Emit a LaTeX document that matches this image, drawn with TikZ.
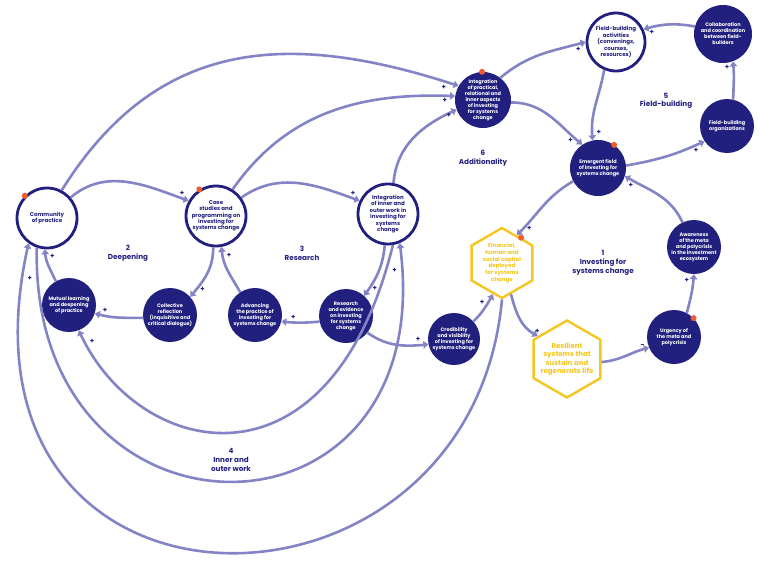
\documentclass[tikz,border=0pt]{standalone}
\usepackage{fontspec}
\setmainfont{Poppins}
\usetikzlibrary{arrows.meta,shapes.geometric}
\definecolor{navy}{HTML}{22207F}
\definecolor{lav}{HTML}{8284C5}
\definecolor{gold}{HTML}{F5C61E}
\definecolor{dotred}{HTML}{F15A2B}
\begin{document}
\begin{tikzpicture}[x=1pt,y=-1pt,
  fc/.style={circle, fill=navy, minimum size=#1, inner sep=0pt},
  wcirc/.style={circle, draw=navy, line width=2.8pt, fill=white, minimum size=#1, inner sep=0pt},
  hexa/.style={regular polygon, regular polygon sides=6, shape border rotate=30, draw=gold, line width=2.4pt, fill=white, minimum size=#1, inner sep=0pt},
  wtext/.style={text=navy, font=\bfseries\fontsize{5.5}{6.4}\selectfont, align=center},
  ftext/.style={text=white, font=\bfseries\fontsize{5}{6}\selectfont, align=center},
  htext/.style={text=gold, font=\bfseries\fontsize{5.5}{6.9}\selectfont, align=center},
  hbig/.style={text=gold, font=\bfseries\fontsize{7}{8.5}\selectfont, align=center},
  area/.style={text=navy, font=\bfseries\fontsize{7.2}{8.7}\selectfont, align=center},
  ar/.style={draw=lav, line width=2.6pt, -{Triangle[length=5pt,width=7.5pt]}},
  pl/.style={text=navy, font=\bfseries\fontsize{7}{7}\selectfont, inner sep=1pt},
  rdot/.style={fill=dotred}
]
\useasboundingbox (0,0) rectangle (760,570);

% ---------- nodes ----------
\node[wcirc=60] (cop) at (47,218) {};
\node[wtext] (copt) at (cop) {Community\\of practice};
\node[wcirc=60] (case) at (216,216) {};
\node[wtext] (caset) at (case) {Case\\studies and\\programming on\\investing for\\systems change};
\node[wcirc=60] (iio) at (388,214) {};
\node[wtext] (iiot) at (iio) {Integration\\of inner and\\outer work in\\investing for\\systems\\change};
\node[wcirc=58] (fba) at (616,42) {};
\node[wtext] (fbat) at (fba) {Field-building\\activities\\(convenings,\\courses,\\resources)};

\node[fc=56] (ipr) at (483,100) {};
\node[ftext] (iprt) at (ipr) {Integration\\of practical,\\relational and\\inner aspects\\of investing\\for systems\\change};
\node[fc=58] (collab) at (723,34) {};
\node[ftext] (collabt) at (collab) {Collaboration\\and coordination\\between field-\\builders};
\node[fc=54] (fbo) at (727,126) {};
\node[ftext] (fbot) at (fbo) {Field-building\\organizations};
\node[fc=56] (ef) at (598,168) {};
\node[ftext] (eft) at (ef) {Emergent field\\of investing for\\systems change};
\node[fc=54] (urg) at (674,337) {};
\node[ftext] (urgt) at (urg) {Urgency of\\the meta and\\polycrisis};
\node[fc=54] (awa) at (694,247) {};
\node[ftext] (awat) at (awa) {Awareness\\of the meta\\and polycrisis\\in the investment\\ecosystem};
\node[fc=52] (cred) at (454,339) {};
\node[ftext] (credt) at (cred) {Credibility\\and visibility\\of investing for\\systems change};
\node[fc=54] (re) at (346,316) {};
\node[ftext] (ret) at (re) {Research\\and evidence\\on investing\\for systems\\change};
\node[fc=54] (adv) at (255,315) {};
\node[ftext] (advt) at (adv) {Advancing\\the practice of\\investing for\\systems change};
\node[fc=54] (colr) at (170,315) {};
\node[ftext] (colrt) at (colr) {Collective\\reflection\\(inquisitive and\\critical dialogue)};
\node[fc=54] (mut) at (69,305) {};
\node[ftext] (mutt) at (mut) {Mutual learning\\and deepening\\of practice};

\node[hexa=70] (fin) at (502,263) {};
\node[htext] (fint) at (fin) {Financial,\\human and\\social capital\\deployed\\for systems\\change};
\node[hexa=77] (res) at (567,359) {};
\node[hbig] (rest) at (res) {Resilient\\systems that\\sustain and\\regenerate life};

% area labels
\node[area] (l2) at (128,253) {2\\Deepening};
\node[area] (l3) at (302,253) {3\\Research};
\node[area] (l6) at (483,158) {6\\Additionality};
\node[area] (l5) at (666,101) {5\\Field-building};
\node[area] (l1) at (603,263) {1\\Investing for\\systems change};
\node[area] (l4) at (231,460) {4\\Inner and\\outer work};

% red dots
\fill[rdot] (cop.135) circle[radius=3pt];
\fill[rdot] (case.122) circle[radius=3pt];
\fill[rdot] (ipr.92) circle[radius=3pt];
\fill[rdot] (ef.55) circle[radius=3pt];
\fill[rdot] (fin.53) circle[radius=3pt];
\fill[rdot] (urg.44) circle[radius=3pt];

% ---------- connectors ----------
\draw[ar] (cop.41) to[out=40,in=160] node[pl,pos=.95,above=1pt]{+} (case.151);
\draw[ar] (case.36) to[out=35,in=160] node[pl,pos=.95,above=1pt]{+} (iio.155);
\draw[ar] (cop.62) to[out=58,in=162,looseness=1.12] node[pl,pos=.98,below left=0pt]{+} (ipr.150);
\draw[ar] (case.58) to[out=55,in=178] node[pl,pos=.98,below left=0pt]{+} (ipr.172);
\draw[ar] (iio.80) to[out=85,in=205] node[pl,pos=.97,below left=0pt]{+} (ipr.200);
\draw[ar] (ipr.52) to[out=40,in=195] node[pl,pos=.93,below=1pt]{+} (fba.180);
\draw[ar] (ipr.-5) to[out=0,in=140] node[pl,pos=.93,left=2pt]{+} (ef.124);
\draw[ar] (fba.247) to[out=260,in=95] node[pl,pos=.9,right=2pt]{+} (ef.101);
\draw[ar] (ef.5) to[out=10,in=205] node[pl,pos=.9,below=1pt]{+} (fbo.214);
\draw[ar] (fbo.77) to[out=88,in=275] node[pl,pos=.85,left=2pt]{+} (collab.290);
\draw[ar] (collab.165) to[out=170,in=15] node[pl,pos=.85,below=1pt]{+} (fba.25);
\draw[ar] (ef.208) to[out=210,in=45] node[pl,pos=.9,right=2pt]{+} (fin.62);
\draw[ar] (fin.286) to[out=285,in=150] node[pl,pos=.85,right=2pt]{+} (res.142);
\draw[ar] (res.-5) to[out=5,in=195] node[pl,pos=.88,above=0pt]{-} (urg.203);
\draw[ar] (urg.62) to[out=75,in=265] node[pl,pos=.85,left=2pt]{+} (awa.270);
\draw[ar] (awa.115) to[out=115,in=-30] node[pl,pos=.92,below=1pt]{+} (ef.-17);
\draw[ar] (cred.42) to[out=45,in=240] node[pl,pos=.75,left=2pt]{+} (fin.254);
\draw[ar] (re.-38) to[out=-35,in=185] node[pl,pos=.85,above=1pt]{+} (cred.192);
\draw[ar] (re.192) to[out=185,in=-5] node[pl,pos=.7,above=1pt]{+} (adv.-14);
\draw[ar] (adv.123) to[out=120,in=275] node[pl,pos=.85,right=2pt]{+} (case.280);
\draw[ar] (case.265) to[out=270,in=50] node[pl,pos=.85,right=2pt]{+} (colr.42);
\draw[ar] (colr.186) to[out=180,in=-15] node[pl,pos=.8,above=1pt]{+} (mut.-18);
\draw[ar] (mut.119) to[out=115,in=275] node[pl,pos=.8,right=2pt]{+} (cop.266);
\draw[ar] (iio.264) to[out=265,in=55] node[pl,pos=.85,right=1pt]{+} (re.48);

\draw[ar] (iio.279) .. controls (330,500) and (140,460) .. node[pl,pos=.97,right=3pt]{+} (mut.291);
\draw[ar] (cop.251) .. controls (30,560) and (440,560) .. node[pl,pos=.97,left=3pt]{+} (iio.292);
\draw[ar] (fin.270) .. controls (470,646) and (-60,646) .. node[pl,pos=.97,right=3pt]{+} (cop.234);

\end{tikzpicture}
\end{document}
